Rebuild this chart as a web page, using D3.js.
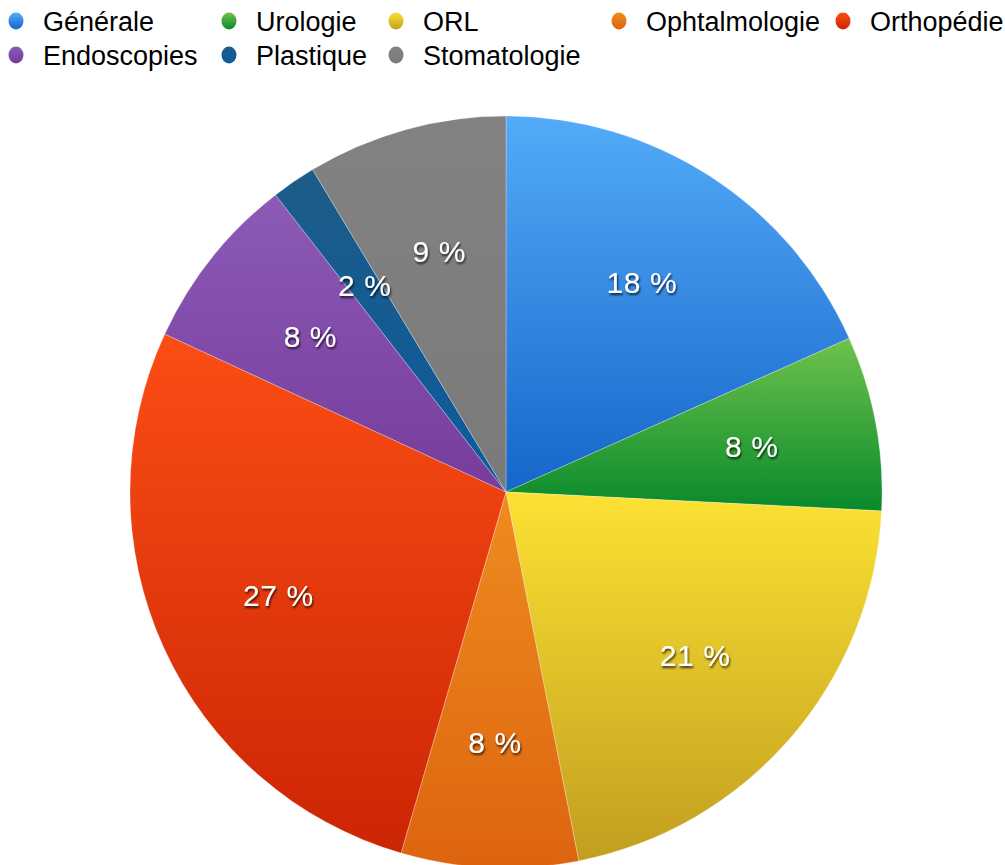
<!DOCTYPE html>
<html>
<head>
<meta charset="utf-8">
<script src="https://cdn.jsdelivr.net/npm/d3@7"></script>
<style>
  body { margin: 0; background: #fff; }
  svg { display: block; font-family: "Liberation Sans", Arial, Helvetica, sans-serif; }
</style>
</head>
<body>
<div id="chart"></div>
<script>
// Data
const categories = ['Générale', 'Urologie', 'ORL', 'Ophtalmologie', 'Orthopédie', 'Endoscopies', 'Plastique', 'Stomatologie'];
const values = [18.3, 7.5, 21.1, 7.6, 27.4, 7.6, 1.9, 8.6];
const topColors = ['#54abf9', '#6fc24c', '#fbe233', '#ee8c20', '#fb4d14', '#8c5ab6', '#1c5c88', '#828282'];
const bottomColors = ['#1566c9', '#08892b', '#c29e1f', '#dd640f', '#cc2505', '#773c9c', '#0d5a9e', '#7a7a7a'];

// legend layout (column x for each entry, row index)
const legendCols = [16, 229, 396, 619, 843, 16, 229, 396];
const legendRows = [0, 0, 0, 0, 0, 1, 1, 1];

const w = 1005, h = 865;
const cx = 506, cy = 492, radius = 376;

const svg = d3.select('#chart').append('svg')
  .attr('width', w)
  .attr('height', h);

const defs = svg.append('defs');

categories.forEach((c, i) => {
  const g = defs.append('linearGradient')
    .attr('id', 'grad' + i)
    .attr('x1', 0).attr('y1', 0).attr('x2', 0).attr('y2', 1);
  g.append('stop').attr('offset', '0%').attr('stop-color', topColors[i]);
  g.append('stop').attr('offset', '100%').attr('stop-color', bottomColors[i]);
});

const shadow = defs.append('filter').attr('id', 'shadow')
  .attr('x', '-20%').attr('y', '-30%').attr('width', '140%').attr('height', '170%');
shadow.append('feDropShadow')
  .attr('dx', 1).attr('dy', 2).attr('stdDeviation', 1.3)
  .attr('flood-color', '#000').attr('flood-opacity', 0.75);

const pie = d3.pie().sort(null).value((d) => d.value);
const arcs = pie(categories.map((c, i) => ({ name: c, value: values[i], i: i })));

const arc = d3.arc().innerRadius(0).outerRadius(radius);
const labelArc = d3.arc().innerRadius(250).outerRadius(250);

const chart = svg.append('g').attr('transform', `translate(${cx}, ${cy})`);

chart.selectAll('path')
  .data(arcs)
  .enter()
  .append('path')
  .attr('d', arc)
  .attr('fill', (d) => `url(#grad${d.data.i})`)
  .attr('stroke', 'rgba(255,255,255,0.45)')
  .attr('stroke-width', 0.6);

chart.selectAll('text.lbl')
  .data(arcs)
  .enter()
  .append('text')
  .attr('class', 'lbl')
  .attr('transform', (d) => `translate(${labelArc.centroid(d)})`)
  .attr('text-anchor', 'middle')
  .attr('dy', '0.36em')
  .attr('fill', '#fff')
  .attr('font-size', 30)
  .attr('letter-spacing', 0.6)
  .attr('filter', 'url(#shadow)')
  .text((d) => Math.round(d.data.value) + ' %');

// legend
const legend = svg.append('g');
const items = legend.selectAll('g')
  .data(categories)
  .enter()
  .append('g')
  .attr('transform', (d, i) => `translate(${legendCols[i]}, ${21 + legendRows[i] * 34})`);

items.append('ellipse')
  .attr('rx', 7.5).attr('ry', 8.5)
  .attr('fill', (d, i) => `url(#grad${i})`);

items.append('text')
  .attr('x', 27)
  .attr('y', 9.5)
  .attr('font-size', 27)
  .attr('fill', '#000')
  .text((d) => d);
</script>
</body>
</html>
